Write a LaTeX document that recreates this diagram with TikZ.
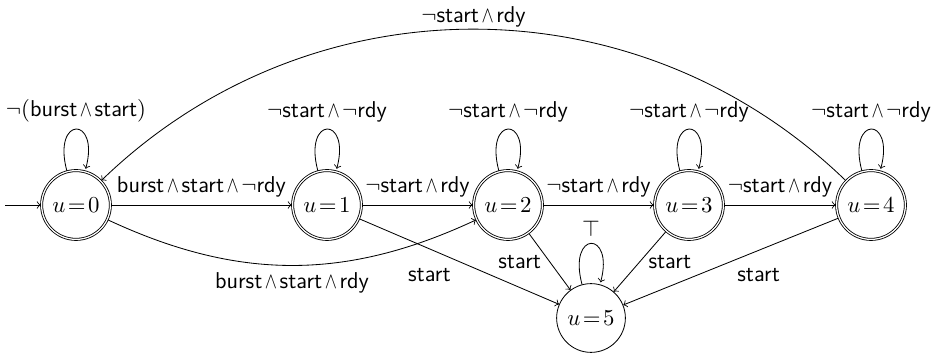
\documentclass[tikz,border=0pt]{standalone}
\usepackage{graphicx}
\usetikzlibrary{automata,positioning}
\newcommand{\tsf}[1]{\textsf{#1}}
\newcommand{\AND}{\mkern2mu\mathord{\scalebox{0.8}[1]{$\wedge$}}\mkern2mu}
\begin{document}
\begin{tikzpicture}[x=0.48pt,y=-0.48pt,->,
  font=\fontsize{11}{13.6}\selectfont,
  every state/.style={draw,circle,minimum size=33pt,inner sep=1pt}]
\useasboundingbox (0,0) rectangle (933,360);
\node[state,accepting] (u0) at (76,205) {$u\!=\!0$};
\node[state,accepting] (u1) at (327,205) {$u\!=\!1$};
\node[state,accepting] (u2) at (508,205) {$u\!=\!2$};
\node[state,accepting] (u3) at (689,205) {$u\!=\!3$};
\node[state,accepting] (u4) at (871,205) {$u\!=\!4$};
\node[state] (u5) at (591,318) {$u\!=\!5$};
\coordinate (init) at (5,205);
\draw (init) -- (u0);
\draw (u0) edge[loop above] node[above] {$\neg(\tsf{burst}\AND\tsf{start})$} (u0);
\draw (u1) edge[loop above] node[above] {$\neg\tsf{start}\AND\neg\tsf{rdy}$} (u1);
\draw (u2) edge[loop above] node[above] {$\neg\tsf{start}\AND\neg\tsf{rdy}$} (u2);
\draw (u3) edge[loop above] node[above] {$\neg\tsf{start}\AND\neg\tsf{rdy}$} (u3);
\draw (u4) edge[loop above] node[above] {$\neg\tsf{start}\AND\neg\tsf{rdy}$} (u4);
\draw (u5) edge[loop above] node[above] {$\top$} (u5);
\draw (u0) -- node[above] {$\tsf{burst}\AND\tsf{start}\AND\neg\tsf{rdy}$} (u1);
\draw (u1) -- node[above] {$\neg\tsf{start}\AND\tsf{rdy}$} (u2);
\draw (u2) -- node[above] {$\neg\tsf{start}\AND\tsf{rdy}$} (u3);
\draw (u3) -- node[above] {$\neg\tsf{start}\AND\tsf{rdy}$} (u4);
\draw (u4) to[bend right=44] node[above,inner sep=1pt] {$\neg\tsf{start}\AND\tsf{rdy}$} (u0);
\draw (u0) to[bend right=25] node[below] {$\tsf{burst}\AND\tsf{start}\AND\tsf{rdy}$} (u2);
\draw (u1) -- node[pos=0.35,shift={(0,26)}] {\tsf{start}} (u5);
\draw (u2) -- node[pos=0.5,shift={(-30,0)}] {\tsf{start}} (u5);
\draw (u3) -- node[pos=0.5,shift={(30,0)}] {\tsf{start}} (u5);
\draw (u4) -- node[pos=0.37,shift={(0,25)}] {\tsf{start}} (u5);
\end{tikzpicture}
\end{document}
